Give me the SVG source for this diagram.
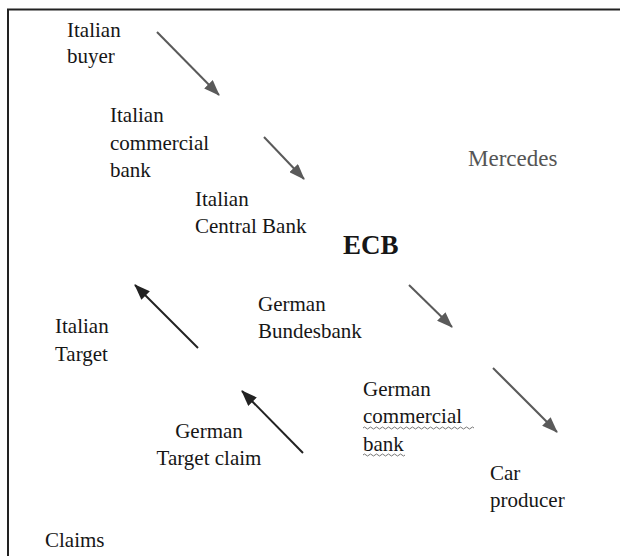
<svg xmlns="http://www.w3.org/2000/svg" width="620" height="556" viewBox="0 0 620 556">
<defs>
<style>
text{font-family:'Liberation Serif','Times New Roman',Times,'DejaVu Serif',serif;font-size:21px;fill:#161616}
.ecb{font-size:27px;font-weight:bold}
.mer{font-size:23px;fill:#555}
.ga{stroke:#5a5a5a;stroke-width:2;fill:none}
.ba{stroke:#222;stroke-width:2;fill:none}
.wave{stroke:#777;stroke-width:1;fill:none}
</style>
<marker id="hg" viewBox="0 0 16 12" refX="15" refY="6" markerWidth="16" markerHeight="12" markerUnits="userSpaceOnUse" orient="auto">
<path d="M0,0 L16,6 L0,12 Z" fill="#5a5a5a"/>
</marker>
<marker id="hb" viewBox="0 0 16 12" refX="15" refY="6" markerWidth="16" markerHeight="12" markerUnits="userSpaceOnUse" orient="auto">
<path d="M0,0 L16,6 L0,12 Z" fill="#222"/>
</marker>
</defs>
<rect width="620" height="556" fill="#fff"/>
<path d="M8,560 L8,9.5 L620,9.5" stroke="#222" stroke-width="2" fill="none"/>
<g id="connectors">
<line class="ga" x1="157" y1="32" x2="219" y2="95" marker-end="url(#hg)"/>
<line class="ga" x1="264" y1="137" x2="304" y2="179" marker-end="url(#hg)"/>
<line class="ga" x1="409" y1="285" x2="452" y2="327" marker-end="url(#hg)"/>
<line class="ga" x1="493" y1="368" x2="557" y2="432" marker-end="url(#hg)"/>
<line class="ba" x1="198" y1="348" x2="135" y2="285" marker-end="url(#hb)"/>
<line class="ba" x1="303" y1="453" x2="242" y2="391" marker-end="url(#hb)"/>
</g>
<g id="italian-buyer" font-family="Liberation Serif, serif"><text x="67" y="37">Italian</text><text x="67" y="63">buyer</text></g>
<g id="italian-commercial-bank"><text x="110" y="122">Italian</text><text x="110" y="150">commercial</text><text x="110" y="177">bank</text></g>
<g id="italian-central-bank"><text x="195" y="206">Italian</text><text x="195" y="233">Central Bank</text></g>
<g id="ecb"><text class="ecb" x="343" y="254">ECB</text></g>
<g id="mercedes"><text class="mer" x="468" y="166">Mercedes</text></g>
<g id="german-bundesbank"><text x="258" y="311">German</text><text x="258" y="338">Bundesbank</text></g>
<g id="italian-target"><text x="55" y="333">Italian</text><text x="55" y="361">Target</text></g>
<g id="german-target-claim"><text x="209" y="438" text-anchor="middle">German</text><text x="209" y="465" text-anchor="middle">Target claim</text></g>
<g id="german-commercial-bank"><text x="363" y="396">German</text><text x="363" y="423">commercial</text><text x="363" y="451">bank</text>
<path class="wave" d="M363,428 q1.5,-2 3,0 t3,0 t3,0 t3,0 t3,0 t3,0 t3,0 t3,0 t3,0 t3,0 t3,0 t3,0 t3,0 t3,0 t3,0 t3,0 t3,0 t3,0 t3,0 t3,0 t3,0 t3,0 t3,0 t3,0 t3,0 t3,0 t3,0 t3,0 t3,0 t3,0 t3,0 t3,0 t3,0 t3,0 t3,0 t3,0 t3,0"/>
<path class="wave" d="M363,455 q1.5,-2 3,0 t3,0 t3,0 t3,0 t3,0 t3,0 t3,0 t3,0 t3,0 t3,0 t3,0 t3,0 t3,0 t3,0"/>
</g>
<g id="car-producer"><text x="490" y="480">Car</text><text x="490" y="507">producer</text></g>
<g id="claims"><text x="45" y="547">Claims</text></g>
</svg>
